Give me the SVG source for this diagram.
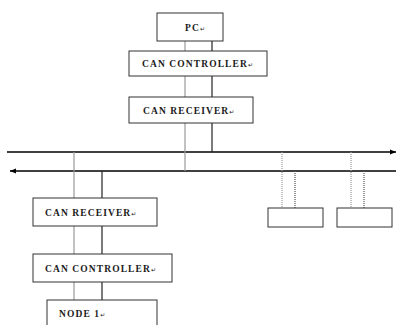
<svg xmlns="http://www.w3.org/2000/svg" width="396" height="325" viewBox="0 0 396 325">
  <style>
    .box { fill: #fff; stroke: #333; stroke-width: 1; }
    .lbl { font-family: "Liberation Serif", "DejaVu Serif", serif; font-size: 9.5px; font-weight: bold; fill: #1a1a1a; letter-spacing: 1.1px; }
    .mk { font-family: "DejaVu Sans", sans-serif; font-size: 6px; font-weight: normal; letter-spacing: 0; }
    .bus { stroke: #000; stroke-width: 1.5; fill: none; }
    .wl { stroke: #999; stroke-width: 1.2; fill: none; }
    .wh { stroke: #222; stroke-width: 1.2; fill: none; }
    .dl { stroke: #999; stroke-width: 1.2; stroke-dasharray: 1 1; fill: none; }
    .dh { stroke: #555; stroke-width: 1.2; stroke-dasharray: 1 1; fill: none; }
  </style>
  <defs>
    <marker id="arr" viewBox="0 0 10 10" refX="10" refY="5" markerWidth="6" markerHeight="6" orient="auto" markerUnits="userSpaceOnUse">
      <path d="M0,1 L10,5 L0,9 Z" fill="#000"/>
    </marker>
  </defs>

  <rect width="396" height="325" fill="#fff"/>

  <!-- connectors: bus lines and stubs -->
  <g id="connectors">
    <line class="bus" x1="7" y1="152" x2="396" y2="152" marker-end="url(#arr)"/>
    <line class="bus" x1="396" y1="171" x2="10" y2="171" marker-end="url(#arr)"/>
    <!-- upper node stubs -->
    <line class="wl" x1="185" y1="41" x2="185" y2="51"/>
    <line class="wh" x1="212" y1="41" x2="212" y2="51"/>
    <line class="wl" x1="185" y1="76" x2="185" y2="97"/>
    <line class="wh" x1="212" y1="76" x2="212" y2="97"/>
    <line class="wl" x1="185" y1="123" x2="185" y2="171"/>
    <line class="wh" x1="212" y1="123" x2="212" y2="152"/>
    <!-- lower node stubs -->
    <line class="wl" x1="74" y1="152" x2="74" y2="198"/>
    <line class="wh" x1="102" y1="171" x2="102" y2="198"/>
    <line class="wl" x1="74" y1="226" x2="74" y2="254"/>
    <line class="wh" x1="102" y1="226" x2="102" y2="254"/>
    <line class="wl" x1="74" y1="282" x2="74" y2="300"/>
    <line class="wh" x1="102" y1="282" x2="102" y2="300"/>
    <!-- further nodes -->
    <line class="dl" x1="282" y1="152" x2="282" y2="208"/>
    <line class="dh" x1="295" y1="171" x2="295" y2="208"/>
    <line class="dl" x1="351" y1="152" x2="351" y2="208"/>
    <line class="dh" x1="364" y1="171" x2="364" y2="208"/>
  </g>

  <g id="pc">
    <rect class="box" x="157" y="13" width="66" height="28"/>
    <text class="lbl" x="185" y="31">PC<tspan class="mk">↵</tspan></text>
  </g>
  <g id="can-controller-top">
    <rect class="box" x="129" y="51" width="138" height="25"/>
    <text class="lbl" x="142" y="67">CAN CONTROLLER<tspan class="mk">↵</tspan></text>
  </g>
  <g id="can-receiver-top">
    <rect class="box" x="129" y="97" width="124" height="26"/>
    <text class="lbl" x="143" y="114">CAN RECEIVER<tspan class="mk">↵</tspan></text>
  </g>

  <g id="can-receiver-node1">
    <rect class="box" x="33" y="198" width="124" height="28"/>
    <text class="lbl" x="45" y="216">CAN RECEIVER<tspan class="mk">↵</tspan></text>
  </g>
  <g id="can-controller-node1">
    <rect class="box" x="33" y="254" width="139" height="28"/>
    <text class="lbl" x="45" y="272">CAN CONTROLLER<tspan class="mk">↵</tspan></text>
  </g>
  <g id="node1">
    <rect class="box" x="47" y="300" width="110" height="30"/>
    <text class="lbl" x="59" y="317">NODE 1<tspan class="mk">↵</tspan></text>
  </g>

  <g id="node2">
    <rect class="box" x="268" y="208" width="55" height="19"/>
  </g>
  <g id="node3">
    <rect class="box" x="337" y="208" width="55" height="19"/>
  </g>
</svg>
